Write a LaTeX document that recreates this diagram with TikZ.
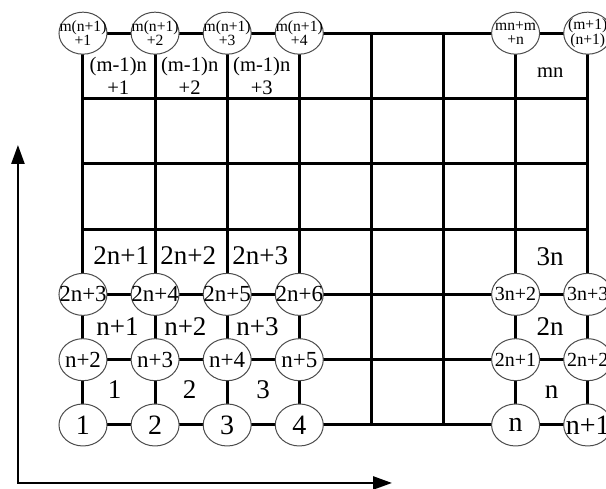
\documentclass[tikz,border=0pt]{standalone}
\usepackage{fontspec}
\setmainfont{Liberation Serif}
\usetikzlibrary{shapes.geometric,arrows.meta}

\begin{document}
\begin{tikzpicture}[
  x=1.267cm,y=1.1475cm,
  >={Triangle[length=9.5pt,width=6.5pt]},
  bond/.style={line width=1.5pt},
  axis/.style={line width=1.25pt},
  site/.style={ellipse,draw=black!70,line width=0.5pt,fill=white,inner sep=0pt,
               minimum width=24pt,minimum height=21pt},
  sitetxt/.style={inner sep=0pt,align=center,font=\fontsize{11.5}{12}\selectfont},
  sitebig/.style={sitetxt,font=\fontsize{14}{15}\selectfont},
  sitesmall/.style={sitetxt,font=\fontsize{10}{11}\selectfont},
  sitetop/.style={sitetxt,font=\fontsize{7.8}{7.2}\selectfont},
  cell/.style={inner sep=0pt,font=\fontsize{13.5}{15}\selectfont},
  celltop/.style={inner sep=0pt,align=center,font=\fontsize{10.3}{11.5}\selectfont}
]
\useasboundingbox (-1.151,-0.980) rectangle (7.254,6.508);
\clip (-1.151,-0.980) rectangle (7.254,6.508);

% lattice points
\foreach \i in {0,...,7}
  \foreach \j in {0,...,6}
    \coordinate (p-\i-\j) at (\i,\j);

% bonds
\foreach \j in {0,...,6}
  \draw[bond] (p-0-\j) -- (p-7-\j);
\foreach \i in {0,...,7}
  \draw[bond] (p-\i-0) -- (p-\i-6);

% sites
\foreach \i/\t in {0/1,1/2,2/3,3/4,6/n,7/n+1}{
  \node[site] (c-\i-0) at (p-\i-0) {};
  \node[sitebig] (l-\i-0) at (c-\i-0) {\t};
}
\foreach \i/\t in {0/n+2,1/n+3,2/n+4,3/n+5,6/2n+1,7/2n+2}{
  \node[site] (c-\i-1) at (p-\i-1) {};
}
\foreach \i/\t in {0/n+2,1/n+3,2/n+4,3/n+5}
  \node[sitetxt] (l-\i-1) at (c-\i-1) {\t};
\foreach \i/\t in {6/2n+1,7/2n+2}
  \node[sitesmall] (l-\i-1) at (c-\i-1) {\t};
\foreach \i/\t in {0/2n+3,1/2n+4,2/2n+5,3/2n+6,6/3n+2,7/3n+3}{
  \node[site] (c-\i-2) at (p-\i-2) {};
}
\foreach \i/\t in {0/2n+3,1/2n+4,2/2n+5,3/2n+6}
  \node[sitetxt] (l-\i-2) at (c-\i-2) {\t};
\foreach \i/\t in {6/3n+2,7/3n+3}
  \node[sitesmall] (l-\i-2) at (c-\i-2) {\t};
\foreach \i in {0,1,2,3,6,7}
  \node[site] (c-\i-6) at (p-\i-6) {};
\foreach \i/\t in {0/1,1/2,2/3,3/4}
  \node[sitetop] (l-\i-6) at (c-\i-6) {m(n+1)\\+\t};
\node[sitetop] (l-6-6) at (c-6-6) {mn+m\\+n};
\node[sitetop] (l-7-6) at (c-7-6) {(m+1)\\(n+1)};

% plaquette labels
\node[cell] (f-1) at (0.44,0.54) {1};
\node[cell] (f-2) at (1.48,0.54) {2};
\node[cell] (f-3) at (2.50,0.54) {3};
\node[cell] (f-n) at (6.50,0.51) {n};
\node[cell] (f-n1) at (0.48,1.50) {n+1};
\node[cell] (f-n2) at (1.42,1.50) {n+2};
\node[cell] (f-n3) at (2.42,1.50) {n+3};
\node[cell] (f-2n) at (6.48,1.50) {2n};
\node[cell] (f-2n1) at (0.53,2.60) {2n+1};
\node[cell] (f-2n2) at (1.46,2.60) {2n+2};
\node[cell] (f-2n3) at (2.46,2.60) {2n+3};
\node[cell] (f-3n) at (6.48,2.57) {3n};
\node[celltop] (f-m1) at (0.49,5.34) {(m-1)n\\+1};
\node[celltop] (f-m2) at (1.48,5.34) {(m-1)n\\+2};
\node[celltop] (f-m3) at (2.48,5.34) {(m-1)n\\+3};
\node[celltop] (f-mn) at (6.48,5.39) {mn};

% axes
\coordinate (o) at (-0.902,-0.888);
\coordinate (ytip) at (-0.902,4.288);
\coordinate (xtip) at (4.286,-0.888);
\draw[axis,<->] (ytip) -- (o) -- (xtip);
\end{tikzpicture}
\end{document}
